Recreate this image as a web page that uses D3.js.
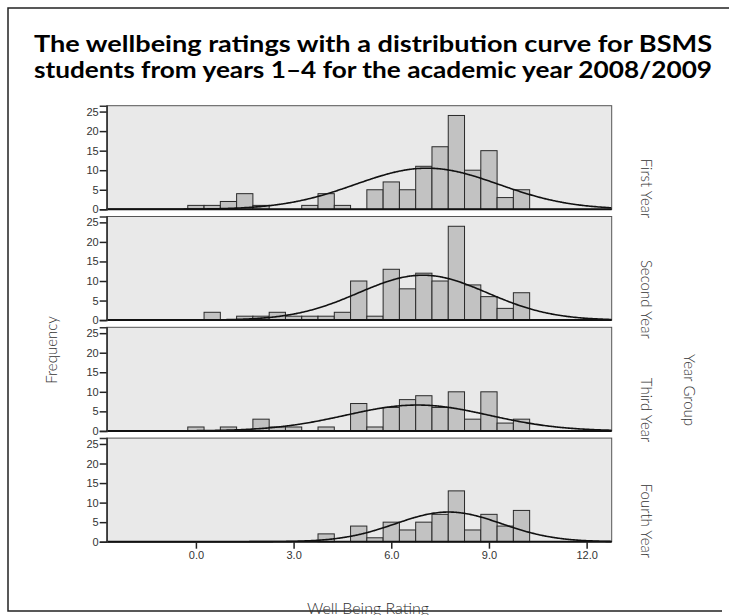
<!DOCTYPE html>
<html>
<head>
<meta charset="utf-8">
<script src="https://cdn.jsdelivr.net/npm/d3@7"></script>
<style>
  body { margin: 0; background: #fff; }
  svg { display: block; }
</style>
</head>
<body>
<svg id="chart"></svg>
<script>
var W = 729, H = 615;

// bin centres (width 0.5) of Well Being Rating
var bins = [0.0, 0.5, 1.0, 1.5, 2.0, 2.5, 3.0, 3.5, 4.0, 4.5, 5.0, 5.5, 6.0, 6.5, 7.0, 7.5, 8.0, 8.5, 9.0, 9.5, 10.0];
var groups = ["First Year", "Second Year", "Third Year", "Fourth Year"];

// counts per bin
var firstYear  = [1, 1, 2, 4, 1, 0, 0, 1, 4, 1, 0, 5, 7, 5, 11, 16, 24, 10, 15, 3, 5];
var secondYear = [0, 2, 0, 1, 1, 2, 1, 1, 1, 2, 10, 1, 13, 8, 12, 10, 24, 9, 6, 3, 7];
var thirdYear  = [1, 0, 1, 0, 3, 1, 1, 0, 1, 0, 7, 1, 6, 8, 9, 6, 10, 3, 10, 2, 3];
var fourthYear = [0, 0, 0, 0, 0, 0, 0, 0, 2, 0, 4, 1, 5, 3, 5, 7, 13, 3, 7, 4, 8];

// normal curve parameters per group
var means = [7.1, 6.97, 6.8, 7.76];
var sds   = [2.2, 1.98, 2.2, 1.63];

var xTicks = [0, 3, 6, 9, 12];
var yTicks = [0, 5, 10, 15, 20, 25];

var counts = [firstYear, secondYear, thirdYear, fourthYear];
var binWidth = 0.5;

var plot = {left: 106.7, right: 611.7, top: 105.7, pitch: 110.8, h: 103.6};

var svg = d3.select("#chart")
    .attr("width", W)
    .attr("height", H);

// outer frame
svg.append("path")
  .attr("d", "M729,8 H8 V611 H722")
  .attr("fill", "none")
  .attr("stroke", "#222")
  .attr("stroke-width", 1.5);

// title
var title = ["The wellbeing ratings with a distribution curve for BSMS",
             "students from years 1\u20134 for the academic year 2008/2009"];
svg.selectAll(".title")
  .data(title)
  .enter().append("text")
  .attr("class", "title")
  .attr("x", 34)
  .attr("y", function (d, i) { return 52 + i * 26; })
  .attr("textLength", 678)
  .attr("lengthAdjust", "spacingAndGlyphs")
  .attr("font-family", "Lato, 'Open Sans', sans-serif")
  .attr("font-weight", "bold")
  .attr("font-size", "23px")
  .attr("fill", "#000")
  .text(function (d) { return d; });

var x = d3.scaleLinear()
    .domain([-2.74, 12.77])
    .range([plot.left, plot.right]);

var normal = function (v, m, s) {
  return Math.exp(-0.5 * Math.pow((v - m) / s, 2)) / (s * Math.sqrt(2 * Math.PI));
};

var curveX = d3.range(-2.74, 12.78, 0.05);

groups.forEach(function (g, i) {
  var top = plot.top + i * plot.pitch;
  var y = d3.scaleLinear()
      .domain([0, 26.5])
      .range([top + plot.h, top]);

  var p = svg.append("g");

  p.append("rect")
    .attr("x", plot.left)
    .attr("y", top)
    .attr("width", plot.right - plot.left)
    .attr("height", plot.h)
    .attr("fill", "#e9e9e9")
    .attr("stroke", "#555")
    .attr("stroke-width", 1);

  var data = bins.map(function (b, j) { return {x: b, n: counts[i][j]}; })
      .filter(function (d) { return d.n > 0; });

  p.selectAll(".bar")
    .data(data)
    .enter().append("rect")
    .attr("class", "bar")
    .attr("x", function (d) { return x(d.x - binWidth / 2); })
    .attr("width", function (d) { return x(d.x + binWidth / 2) - x(d.x - binWidth / 2); })
    .attr("y", function (d) { return y(d.n); })
    .attr("height", function (d) { return y(0) - y(d.n); })
    .attr("fill", "#c2c2c2")
    .attr("stroke", "#2a2a2a")
    .attr("stroke-width", 1);

  var total = d3.sum(counts[i]);
  var line = d3.line()
      .x(function (v) { return x(v); })
      .y(function (v) { return y(total * binWidth * normal(v, means[i], sds[i])); })
      .curve(d3.curveBasis);

  p.append("path")
    .datum(curveX)
    .attr("d", line)
    .attr("fill", "none")
    .attr("stroke", "#111")
    .attr("stroke-width", 1.6);

  // baseline
  p.append("line")
    .attr("x1", plot.left).attr("x2", plot.right)
    .attr("y1", y(0)).attr("y2", y(0))
    .attr("stroke", "#111")
    .attr("stroke-width", 2);

  var yAxis = p.append("g")
    .attr("transform", "translate(" + plot.left + ",0)")
    .call(d3.axisLeft(y).tickValues(yTicks).tickSize(7).tickPadding(1));
  yAxis.select(".domain").attr("stroke", "#333").attr("stroke-width", 1.5);
  yAxis.selectAll(".tick line").attr("stroke", "#222").attr("stroke-width", 1.5);
  yAxis.selectAll("text")
    .attr("font-family", "'Liberation Sans', Arial, sans-serif")
    .attr("font-size", "11px")
    .attr("fill", "#333");

  // group label on the right
  var cy = top + plot.h / 2 + 31;
  p.append("text")
    .attr("transform", "translate(641," + cy + ") rotate(90)")
    .attr("text-anchor", "middle")
    .attr("font-family", "Lato, 'Open Sans', sans-serif")
    .attr("font-weight", 300)
    .attr("font-size", "15px")
    .attr("fill", "#333")
    .text(g);

  if (i === groups.length - 1) {
    var xAxis = p.append("g")
      .attr("transform", "translate(0," + y(0) + ")")
      .call(d3.axisBottom(x).tickValues(xTicks).tickSize(7).tickPadding(3)
        .tickFormat(d3.format(".1f")));
    xAxis.select(".domain").remove();
    xAxis.selectAll(".tick line").attr("stroke", "#222").attr("stroke-width", 1.5);
    xAxis.selectAll("text")
      .attr("font-family", "'Liberation Sans', Arial, sans-serif")
      .attr("font-size", "11px")
      .attr("fill", "#333");
  }
});

// axis titles
svg.append("text")
  .attr("transform", "translate(57,350) rotate(-90)")
  .attr("text-anchor", "middle")
  .attr("font-family", "Lato, 'Open Sans', sans-serif")
  .attr("font-weight", 300)
  .attr("font-size", "15px")
  .attr("fill", "#333")
  .text("Frequency");

svg.append("text")
  .attr("transform", "translate(684,390) rotate(90)")
  .attr("text-anchor", "middle")
  .attr("font-family", "Lato, 'Open Sans', sans-serif")
  .attr("font-weight", 300)
  .attr("font-size", "15px")
  .attr("fill", "#333")
  .text("Year Group");

svg.append("text")
  .attr("x", 368)
  .attr("y", 614)
  .attr("text-anchor", "middle")
  .attr("font-family", "Lato, 'Open Sans', sans-serif")
  .attr("font-weight", 300)
  .attr("font-size", "16px")
  .attr("fill", "#333")
  .text("Well Being Rating");
</script>
</body>
</html>
